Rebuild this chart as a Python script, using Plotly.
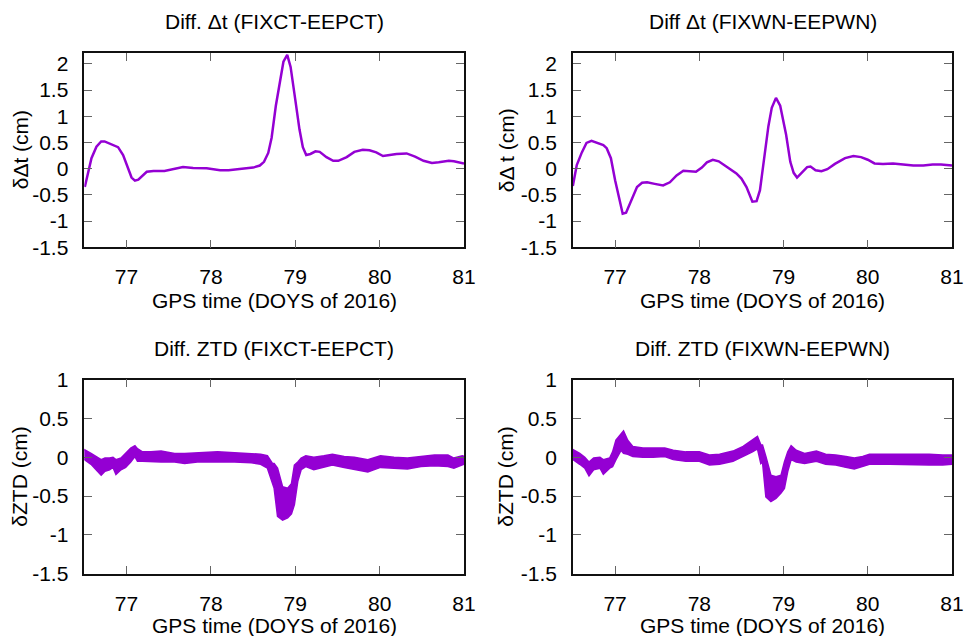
"""Clock and ZTD differences between fixed and estimated solutions."""
import plotly.graph_objects as go
from plotly.subplots import make_subplots

# --- clock difference, FIXCT - EEPCT (cm)
dt_ct_doy = [76.506, 76.585, 76.644, 76.70, 76.74, 76.82, 76.90, 76.96, 77.02, 77.06, 77.10,
             77.14, 77.24, 77.32, 77.45, 77.55, 77.67, 77.79, 77.95, 78.11, 78.21, 78.34,
             78.50, 78.58, 78.63, 78.68, 78.72, 78.77, 78.82, 78.86, 78.905, 78.945, 79.00,
             79.05, 79.09, 79.13, 79.18, 79.24, 79.29, 79.37, 79.45, 79.51, 79.61, 79.70,
             79.80, 79.88, 79.96, 80.04, 80.12, 80.20, 80.32, 80.42, 80.52, 80.62, 80.70,
             80.82, 80.88, 81.0]
dt_ct = [-0.35, 0.20, 0.42, 0.52, 0.52, 0.46, 0.41, 0.26, 0.0, -0.17, -0.23,
         -0.21, -0.06, -0.045, -0.045, -0.01, 0.03, 0.013, 0.006, -0.03, -0.03, -0.006,
         0.02, 0.06, 0.13, 0.30, 0.59, 1.20, 1.71, 2.04, 2.17, 1.94, 1.32,
         0.75, 0.41, 0.26, 0.28, 0.33, 0.32, 0.22, 0.15, 0.15, 0.22, 0.32,
         0.36, 0.35, 0.31, 0.24, 0.26, 0.28, 0.29, 0.23, 0.15, 0.11, 0.12,
         0.15, 0.14, 0.10]

# --- clock difference, FIXWN - EEPWN (cm)
dt_wn_doy = [76.498, 76.545, 76.605, 76.66, 76.72, 76.80, 76.86, 76.90, 76.95, 77.0, 77.05,
             77.09, 77.13, 77.19, 77.26, 77.32, 77.38, 77.47, 77.57, 77.65, 77.73, 77.81,
             77.89, 77.96, 78.03, 78.09, 78.16, 78.23, 78.32, 78.44, 78.50, 78.56, 78.63,
             78.68, 78.72, 78.77, 78.82, 78.86, 78.91, 78.96, 79.03, 79.08, 79.12, 79.16,
             79.21, 79.28, 79.32, 79.38, 79.45, 79.52, 79.61, 79.73, 79.83, 79.92, 80.00,
             80.08, 80.18, 80.30, 80.42, 80.54, 80.66, 80.77, 80.87, 81.0]
dt_wn = [-0.33, 0.07, 0.31, 0.49, 0.53, 0.49, 0.45, 0.39, 0.20, -0.22, -0.60,
         -0.86, -0.84, -0.60, -0.35, -0.27, -0.26, -0.29, -0.32, -0.26, -0.13, -0.04,
         -0.045, -0.06, 0.02, 0.12, 0.17, 0.14, 0.04, -0.09, -0.19, -0.35, -0.63,
         -0.62, -0.41, 0.23, 0.81, 1.16, 1.35, 1.20, 0.65, 0.13, -0.08, -0.17,
         -0.09, 0.03, 0.04, -0.03, -0.05, -0.01, 0.09, 0.20, 0.24, 0.22, 0.17,
         0.10, 0.09, 0.10, 0.08, 0.06, 0.06, 0.08, 0.08, 0.06]

# --- ZTD difference, FIXCT - EEPCT (cm): spread of the epoch-wise points
ztd_ct_doy = [76.46, 76.50, 76.58, 76.64, 76.70, 76.745, 76.80, 76.84, 76.875, 76.935, 76.99,
              77.05, 77.10, 77.13, 77.19, 77.29, 77.41, 77.57, 77.69, 77.84, 78.08, 78.28,
              78.48, 78.59, 78.67, 78.73, 78.75, 78.79, 78.85, 78.91, 78.955, 78.99, 79.03,
              79.07, 79.125, 79.22, 79.34, 79.44, 79.58, 79.70, 79.86, 80.01, 80.17, 80.33,
              80.49, 80.65, 80.81, 80.88, 80.98, 81.04]
ztd_ct_hi = [0.08, 0.10, 0.05, 0.01, -0.03, -0.01, -0.01, 0.0, -0.03, -0.01, 0.05,
             0.12, 0.15, 0.11, 0.07, 0.07, 0.08, 0.05, 0.05, 0.06, 0.07, 0.06,
             0.05, 0.04, 0.02, -0.08, -0.08, -0.14, -0.38, -0.40, -0.34, -0.10, -0.06,
             -0.01, 0.02, 0.0, 0.02, 0.04, 0.01, 0.0, -0.03, 0.02, 0.0, -0.01,
             0.01, 0.03, 0.03, -0.01, 0.02, 0.0]
ztd_ct_lo = [0.04, -0.03, -0.09, -0.16, -0.23, -0.18, -0.16, -0.13, -0.22, -0.16, -0.13,
             -0.06, 0.01, -0.05, -0.05, -0.05, -0.06, -0.06, -0.08, -0.06, -0.06, -0.06,
             -0.07, -0.09, -0.14, -0.34, -0.40, -0.76, -0.81, -0.78, -0.73, -0.61, -0.31,
             -0.16, -0.12, -0.16, -0.13, -0.10, -0.13, -0.16, -0.19, -0.13, -0.14, -0.15,
             -0.12, -0.11, -0.12, -0.14, -0.10, -0.07]

# --- ZTD difference, FIXWN - EEPWN (cm)
ztd_wn_doy = [76.46, 76.50, 76.58, 76.64, 76.69, 76.745, 76.82, 76.86, 76.935, 76.97, 77.01,
              77.07, 77.10, 77.15, 77.21, 77.33, 77.45, 77.59, 77.69, 77.84, 78.00, 78.12,
              78.24, 78.40, 78.52, 78.63, 78.69, 78.73, 78.75, 78.79, 78.85, 78.91, 78.97,
              79.01, 79.05, 79.09, 79.15, 79.25, 79.39, 79.50, 79.62, 79.74, 79.84, 79.94,
              80.02, 80.26, 80.49, 80.73, 80.89, 81.01, 81.04]
ztd_wn_hi = [0.08, 0.10, 0.05, 0.0, -0.06, -0.01, 0.0, -0.03, -0.01, 0.07, 0.22,
             0.30, 0.34, 0.22, 0.14, 0.12, 0.12, 0.12, 0.09, 0.07, 0.07, 0.03,
             0.04, 0.08, 0.14, 0.22, 0.27, 0.16, 0.16, 0.01, -0.23, -0.25, -0.23,
             -0.06, 0.07, 0.15, 0.09, 0.05, 0.08, 0.04, 0.03, 0.01, -0.01, 0.01,
             0.04, 0.04, 0.04, 0.04, 0.03, 0.03, 0.0]
ztd_wn_lo = [0.04, -0.03, -0.09, -0.14, -0.24, -0.16, -0.14, -0.22, -0.14, -0.12, -0.03,
             0.09, 0.05, 0.04, 0.01, 0.0, 0.0, 0.01, -0.03, -0.05, -0.05, -0.10,
             -0.09, -0.05, 0.01, 0.07, 0.11, -0.08, -0.06, -0.51, -0.57, -0.53, -0.46,
             -0.40, -0.18, -0.03, -0.06, -0.08, -0.05, -0.09, -0.10, -0.13, -0.15, -0.12,
             -0.09, -0.09, -0.09, -0.10, -0.10, -0.09, -0.06]

panel_titles = ["Diff. \u0394t (FIXCT-EEPCT)", "Diff \u0394t (FIXWN-EEPWN)",
                "Diff. ZTD (FIXCT-EEPCT)", "Diff. ZTD (FIXWN-EEPWN)"]
y_titles = ["\u03b4\u0394t (cm)", "\u03b4\u0394 t (cm)", "\u03b4ZTD (cm)", "\u03b4ZTD (cm)"]
x_title = "GPS time (DOYS of 2016)"
x_ticks = [77, 78, 79, 80, 81]

W, H = 966, 636
COLOR = "#9400D3"
FONT = "Liberation Sans, Arial, Helvetica, sans-serif"
FS = 21

# plot areas in pixels: (left, right, top, bottom)
boxes = [(84.3, 464.0, 53.3, 247.3), (573.0, 952.0, 53.3, 247.3),
         (84.3, 464.0, 379.7, 573.7), (573.0, 952.0, 379.7, 573.7)]

fig = make_subplots(rows=2, cols=2)

fig.add_trace(go.Scatter(x=dt_ct_doy, y=dt_ct, mode="lines",
                         line=dict(color=COLOR, width=2.5)), row=1, col=1)
fig.add_trace(go.Scatter(x=dt_wn_doy, y=dt_wn, mode="lines",
                         line=dict(color=COLOR, width=2.5)), row=1, col=2)

for doy, hi, lo, col in [(ztd_ct_doy, ztd_ct_hi, ztd_ct_lo, 1), (ztd_wn_doy, ztd_wn_hi, ztd_wn_lo, 2)]:
    fig.add_trace(go.Scatter(x=doy + doy[::-1], y=hi + lo[::-1], mode="lines", fill="toself",
                             fillcolor=COLOR, line=dict(color=COLOR, width=1.5)), row=2, col=col)

annotations = []
for i, (l, r, t, b) in enumerate(boxes):
    ax = "xaxis" if i == 0 else f"xaxis{i + 1}"
    ay = "yaxis" if i == 0 else f"yaxis{i + 1}"
    yr = [-1.5, 2.2] if i < 2 else [-1.5, 1.0]
    yt = [-1.5, -1, -0.5, 0, 0.5, 1, 1.5, 2] if i < 2 else [-1.5, -1, -0.5, 0, 0.5, 1]
    common = dict(showgrid=False, zeroline=False, showline=True, linecolor="#111",
                  linewidth=1.5, mirror="ticks", ticks="inside", ticklen=8, tickwidth=1,
                  tickcolor="#666", automargin=False,
                  tickfont=dict(family=FONT, size=FS, color="black"))
    fig.update_layout({
        ax: dict(domain=[l / W, r / W], range=[76.5, 81], tickvals=x_ticks,
                 ticklabelstandoff=10, **common),
        ay: dict(domain=[1 - b / H, 1 - t / H], range=yr, tickvals=yt,
                 ticktext=[f"{v:g}" for v in yt], ticklabelstandoff=10, **common),
    })
    cx = (l + r) / 2
    title_y = 21.7 if i < 2 else 348
    xt_y = 300 if i < 2 else 625
    yt_x = 20 if i % 2 == 0 else 506
    annotations.append(dict(text=panel_titles[i], x=cx / W, y=1 - title_y / H, xref="paper", yref="paper",
                            showarrow=False, xanchor="center", yanchor="middle",
                            font=dict(family=FONT, size=FS, color="black")))
    annotations.append(dict(text=x_title, x=cx / W, y=1 - xt_y / H, xref="paper", yref="paper",
                            showarrow=False, xanchor="center", yanchor="middle",
                            font=dict(family=FONT, size=FS, color="black")))
    annotations.append(dict(text=y_titles[i], x=yt_x / W, y=1 - (t + b) / 2 / H, xref="paper",
                            yref="paper", showarrow=False, textangle=-90, xanchor="center",
                            yanchor="middle", font=dict(family=FONT, size=FS, color="black")))

fig.update_layout(width=W, height=H, margin=dict(l=0, r=0, t=0, b=0),
                  paper_bgcolor="white", plot_bgcolor="white", showlegend=False,
                  hovermode=False, annotations=annotations)

# the page body has an 8px default margin; drop it so the figure fills the window
fig.write_html("out.html", config={"displayModeBar": False},
               post_script="document.body.style.margin='0';document.body.style.overflow='hidden';")
